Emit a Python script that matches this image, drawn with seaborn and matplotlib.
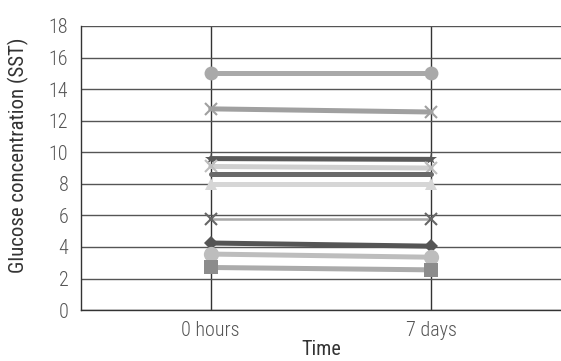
import numpy as np
import pandas as pd
import matplotlib
matplotlib.use("Agg")
import matplotlib.pyplot as plt
import seaborn as sns

# ===== data =====
time_points = ["0 hours", "7 days"]
sample_ids = ["S1", "S2", "S3", "S4", "S5", "S6", "S7", "S8", "S9", "S10"]
glucose_0h = [15.0, 12.75, 9.6, 9.1, 8.65, 8.0, 5.75, 4.25, 3.55, 2.7]
glucose_7d = [15.0, 12.55, 9.55, 9.0, 8.65, 8.0, 5.75, 4.05, 3.35, 2.55]

# styles per sample (line colour, marker colour, marker, line width, marker size)
line_colors = ["#a9a9a9", "#a0a0a0", "#5a5a5a", "#cfcfcf", "#6a6a6a",
               "#d6d6d6", "#a8a8a8", "#555555", "#bdbdbd", "#ababab"]
marker_colors = ["#a9a9a9", "#a0a0a0", "#5a5a5a", "#bdbdbd", "#6a6a6a",
                 "#d6d6d6", "#666666", "#555555", "#bdbdbd", "#8c8c8c"]
markers = ["o", "x", "*", "x", "", "^", "x", "D", "o", "s"]
line_widths = [3.6, 3.6, 3.6, 3.6, 3.6, 3.6, 1.8, 3.6, 3.6, 3.6]
marker_sizes = [10, 9, 9, 9, 0, 9, 9, 7, 11, 10]

df = pd.DataFrame({
    "Sample": np.repeat(sample_ids, len(time_points)),
    "Time": time_points * len(sample_ids),
    "Glucose": [v for pair in zip(glucose_0h, glucose_7d) for v in pair],
})

sns.set_style("white")
plt.rcParams["font.family"] = ["Roboto Condensed", "DejaVu Sans"]
plt.rcParams["font.weight"] = "light"

fig = plt.figure(figsize=(5.61, 3.61), dpi=100)
ax = fig.add_axes([0.144, 0.141, 0.856, 0.787])

for i, sid in enumerate(sample_ids):
    sub = df[df["Sample"] == sid]
    sns.lineplot(
        data=sub, x="Time", y="Glucose", ax=ax,
        color=line_colors[i], linewidth=line_widths[i],
        marker=markers[i] if markers[i] else None,
        markersize=marker_sizes[i],
        markerfacecolor=marker_colors[i],
        markeredgecolor=marker_colors[i],
        markeredgewidth=1.5 if markers[i] == "x" else 0,
        zorder=3,
    )

ax.set_xlim(-0.59, 1.59)
ax.set_ylim(0, 18)
ax.set_yticks(np.arange(0, 19, 2))
ax.set_xticks([0, 1])
ax.set_xticklabels(time_points)

ax.grid(axis="y", color="#555555", linewidth=1.0)
ax.grid(axis="x", color="#333333", linewidth=1.0)
ax.set_axisbelow(True)

for side in ["top", "right"]:
    ax.spines[side].set_visible(False)
for side in ["left", "bottom"]:
    ax.spines[side].set_color("#333333")
    ax.spines[side].set_linewidth(1.0)

ax.tick_params(axis="both", direction="out", length=5, width=1.0,
               color="#333333", labelcolor="#555555", labelsize=14.5)
ax.tick_params(axis="y", pad=4)
ax.tick_params(axis="x", pad=3)
ax.set_xlabel("Time", fontsize=14.5, color="#333333", labelpad=0)
ax.set_ylabel("Glucose concentration (SST)", fontsize=15, color="#333333")
ax.yaxis.set_label_coords(-0.108, 0.544)

fig.savefig("out.png", dpi=100)
